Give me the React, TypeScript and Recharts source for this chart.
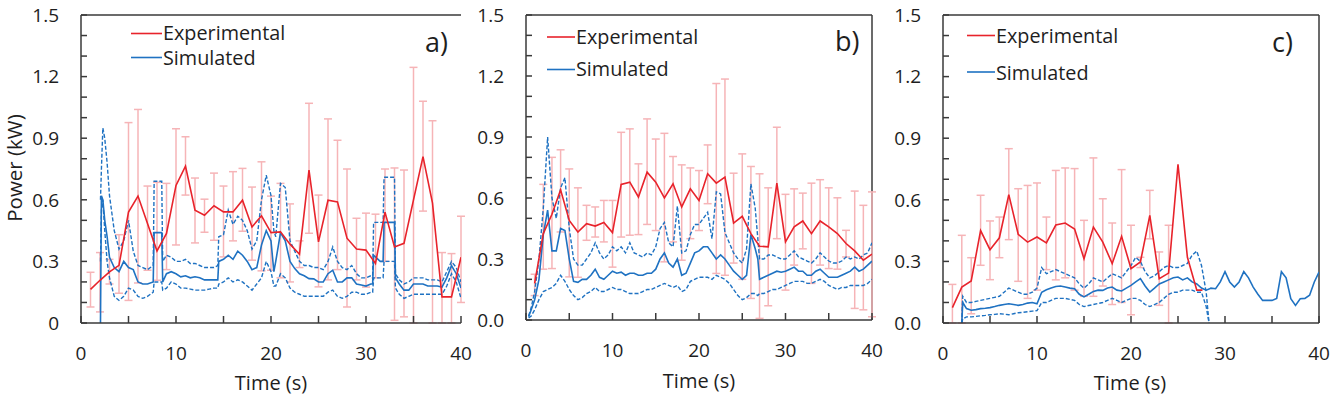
import React from "react";
import { ComposedChart, Line, XAxis, YAxis, ErrorBar, ReferenceLine } from "recharts";

const FONT = "'Open Sans', sans-serif";
const RED = "#e8232b";
const PINK = "#f6b4b7";
const BLUE = "#1f72c2";
const AXIS = "#3a3a3a";
const TEXT = "#1e1e1e";

const xTicks = [0, 5, 10, 15, 20, 25, 30, 35, 40];
const yTicks = [0, 0.1, 0.2, 0.3, 0.4, 0.5, 0.6, 0.7, 0.8, 0.9, 1, 1.1, 1.2, 1.3, 1.4, 1.5];

// ---- panel a ----
const expTimeA = [1, 2, 3, 4, 5, 6, 7, 8, 9, 10, 11, 12, 13, 14, 15, 16, 17, 18, 19, 20,
  21, 22, 23, 24, 25, 26, 27, 28, 29, 30, 31, 32, 33, 34, 35, 36, 37, 38, 39, 40];
const expA = [0.164, 0.208, 0.249, 0.281, 0.54, 0.618, 0.485, 0.351, 0.436, 0.67,
  0.764, 0.549, 0.525, 0.571, 0.541, 0.541, 0.598, 0.468, 0.522, 0.44,
  0.444, 0.384, 0.335, 0.745, 0.395, 0.598, 0.59, 0.413, 0.36, 0.355,
  0.29, 0.54, 0.37, 0.388, 0.6, 0.81, 0.584, 0.127, 0.127, 0.32];
const expLoA = [0.078, 0.054, 0.19, 0.145, 0.11, 0.195, 0.257, 0.208, 0.26, 0.38,
  0.623, 0.39, 0.442, 0.403, 0.322, 0.4, 0.447, 0.306, 0.254, 0.257,
  0.22, 0.2, 0.27, 0.437, 0.176, 0.21, 0.26, 0.078, 0.21, 0.175,
  0.22, 0.3, 0.013, 0.03, 0, 0.545, 0, 0, 0, 0.1];
const expHiA = [0.247, 0.343, 0.31, 0.43, 0.976, 1.04, 0.667, 0.685, 0.68, 0.946,
  0.907, 0.706, 0.603, 0.73, 0.667, 0.737, 0.753, 0.662, 0.785, 0.618,
  0.68, 0.58, 0.4, 1.07, 0.623, 0.994, 0.89, 0.75, 0.51, 0.535,
  0.53, 0.75, 0.755, 0.745, 1.245, 1.08, 0.985, 0.343, 0.338, 0.52];

const simTimeA = [2.05, 2.15, 2.3, 2.5, 2.75, 3, 3.5, 4, 4.5, 5,
  5.5, 6, 6.5, 7, 7.6, 7.7, 8.5, 8.6, 9, 9.5,
  10, 10.5, 11, 11.5, 12, 12.5, 13, 13.5, 14, 14.4,
  14.5, 15, 15.5, 16, 16.5, 17, 17.5, 18, 18.5, 19,
  19.5, 20, 20.3, 20.5, 21, 21.5, 22, 22.5, 23, 23.5,
  24, 24.5, 25, 25.5, 26, 26.5, 27, 27.5, 28, 28.5,
  29, 29.5, 30, 30.5, 30.7, 30.8, 31.5, 31.8, 31.9, 33,
  33.1, 33.5, 34, 34.5, 35, 35.5, 36, 36.5, 37, 37.5,
  38, 38.5, 39, 39.5, 40];
const simMeanA = [0, 0.62, 0.6, 0.5, 0.42, 0.32, 0.27, 0.25, 0.3, 0.27,
  0.26, 0.2, 0.19, 0.19, 0.2, 0.44, 0.44, 0.2, 0.24, 0.25,
  0.24, 0.225, 0.23, 0.22, 0.225, 0.22, 0.21, 0.21, 0.21, 0.21,
  0.3, 0.31, 0.33, 0.31, 0.35, 0.33, 0.3, 0.26, 0.27, 0.38,
  0.45, 0.4, 0.25, 0.3, 0.44, 0.4, 0.3, 0.265, 0.24, 0.23,
  0.216, 0.215, 0.2, 0.2, 0.24, 0.257, 0.2, 0.2, 0.22, 0.22,
  0.19, 0.185, 0.18, 0.19, 0.19, 0.33, 0.3, 0.3, 0.49, 0.49,
  0.22, 0.19, 0.16, 0.16, 0.19, 0.19, 0.19, 0.18, 0.18, 0.18,
  0.175, 0.22, 0.28, 0.24, 0.17];
const simUpA = [0.6, 0.75, 0.95, 0.9, 0.78, 0.62, 0.45, 0.36, 0.4, 0.5,
  0.35, 0.28, 0.27, 0.26, 0.28, 0.69, 0.69, 0.3, 0.33, 0.32,
  0.3, 0.3, 0.31, 0.29, 0.29, 0.28, 0.27, 0.27, 0.27, 0.28,
  0.42, 0.43, 0.55, 0.48, 0.52, 0.5, 0.45, 0.36, 0.4, 0.6,
  0.72, 0.62, 0.45, 0.42, 0.68, 0.66, 0.4, 0.35, 0.3, 0.28,
  0.28, 0.27, 0.27, 0.26, 0.3, 0.37, 0.3, 0.27, 0.26, 0.28,
  0.24, 0.22, 0.22, 0.23, 0.23, 0.49, 0.49, 0.49, 0.71, 0.71,
  0.24, 0.21, 0.19, 0.2, 0.22, 0.22, 0.22, 0.21, 0.21, 0.21,
  0.2, 0.25, 0.3, 0.27, 0.2];
const simLowA = [0.3, 0.55, 0.6, 0.45, 0.3, 0.22, 0.13, 0.11, 0.13, 0.17,
  0.16, 0.13, 0.12, 0.13, 0.15, 0.2, 0.2, 0.16, 0.17, 0.2,
  0.19, 0.17, 0.17, 0.165, 0.16, 0.16, 0.16, 0.165, 0.17, 0.17,
  0.19, 0.2, 0.22, 0.2, 0.21, 0.2, 0.18, 0.16, 0.19, 0.22,
  0.3, 0.25, 0.18, 0.18, 0.24, 0.22, 0.17, 0.15, 0.14, 0.13,
  0.13, 0.13, 0.13, 0.13, 0.15, 0.16, 0.13, 0.12, 0.13, 0.15,
  0.15, 0.14, 0.14, 0.15, 0.15, 0.22, 0.22, 0.22, 0.3, 0.3,
  0.17, 0.14, 0.12, 0.13, 0.14, 0.14, 0.14, 0.14, 0.14, 0.14,
  0.14, 0.18, 0.24, 0.2, 0.12];

// ---- panel b ----
const expTimeB = expTimeA;
const expB = [0.18, 0.425, 0.52, 0.64, 0.49, 0.433, 0.474, 0.462, 0.48, 0.43,
  0.667, 0.678, 0.605, 0.727, 0.678, 0.6, 0.67, 0.556, 0.645, 0.588,
  0.719, 0.673, 0.703, 0.477, 0.51, 0.425, 0.363, 0.36, 0.673, 0.384,
  0.458, 0.487, 0.425, 0.487, 0.458, 0.425, 0.376, 0.34, 0.294, 0.324];
const expLoB = [0.12, 0.25, 0.253, 0.433, 0.212, 0.21, 0.392, 0.408, 0.384, 0.26,
  0.408, 0.417, 0.42, 0.47, 0.44, 0.286, 0.384, 0.294, 0.4, 0.44,
  0.572, 0.229, 0.22, 0.28, 0.2, 0.106, 0.008, 0.07, 0.4, 0.147,
  0.27, 0.35, 0.18, 0.27, 0.253, 0.25, 0.31, 0.057, 0.05, 0.016];
const expHiB = [0.225, 0.667, 0.8, 0.837, 0.743, 0.65, 0.564, 0.556, 0.588, 0.588,
  0.923, 0.94, 0.768, 0.989, 0.89, 0.918, 0.804, 0.763, 0.748, 0.735,
  0.861, 1.163, 1.185, 0.722, 0.817, 0.755, 0.719, 0.65, 0.948, 0.618,
  0.645, 0.624, 0.673, 0.69, 0.65, 0.601, 0.441, 0.634, 0.564, 0.63];

const simTimeB = [0.3, 0.6, 1, 1.5, 2, 2.5, 3, 3.5, 4, 4.5,
  5, 5.5, 6, 6.5, 7, 7.5, 8, 8.5, 9, 9.5,
  10, 10.5, 11, 11.5, 12, 12.5, 13, 13.5, 14, 14.5,
  15, 15.5, 16, 16.5, 17, 17.5, 18, 18.5, 19, 19.5,
  20, 20.5, 21, 21.5, 22, 22.5, 23, 23.5, 24, 24.5,
  25, 25.5, 26, 26.5, 26.8, 27, 27.5, 28, 28.5, 29,
  29.5, 30, 30.5, 31, 31.5, 32, 32.5, 33, 33.5, 34,
  34.5, 35, 35.5, 36, 36.5, 37, 37.5, 38, 38.5, 39,
  39.5, 40];
const simMeanB = [0.016, 0.05, 0.1, 0.2, 0.42, 0.54, 0.34, 0.34, 0.45, 0.44,
  0.3, 0.19, 0.185, 0.2, 0.2, 0.22, 0.25, 0.21, 0.2, 0.22,
  0.24, 0.23, 0.235, 0.22, 0.23, 0.23, 0.22, 0.22, 0.23, 0.23,
  0.25, 0.3, 0.33, 0.28, 0.26, 0.3, 0.22, 0.23, 0.28, 0.33,
  0.34, 0.36, 0.36, 0.33, 0.3, 0.32, 0.3, 0.27, 0.24, 0.22,
  0.2, 0.22, 0.42, 0.35, 0.3, 0.2, 0.21, 0.22, 0.23, 0.24,
  0.235, 0.24, 0.25, 0.26, 0.24, 0.24, 0.22, 0.22, 0.24, 0.25,
  0.23, 0.21, 0.21, 0.21, 0.22, 0.23, 0.24, 0.26, 0.24, 0.25,
  0.27, 0.29];
const simUpB = [0.02, 0.06, 0.14, 0.3, 0.55, 0.9, 0.6, 0.5, 0.65, 0.7,
  0.45, 0.3, 0.27, 0.27, 0.3, 0.33, 0.38, 0.33, 0.3, 0.32,
  0.36, 0.34, 0.36, 0.33, 0.38, 0.33, 0.32, 0.31, 0.33, 0.32,
  0.36, 0.45, 0.48, 0.38, 0.36, 0.56, 0.33, 0.34, 0.42, 0.47,
  0.47, 0.5, 0.53, 0.4, 0.63, 0.62, 0.43, 0.38, 0.33, 0.3,
  0.28, 0.35, 0.67, 0.55, 0.4, 0.3, 0.3, 0.32, 0.32, 0.31,
  0.3, 0.3, 0.32, 0.34, 0.31, 0.3, 0.29, 0.28, 0.3, 0.33,
  0.31, 0.29, 0.28, 0.28, 0.29, 0.31, 0.3, 0.31, 0.3, 0.32,
  0.33, 0.38];
const simLowB = [0.01, 0.02, 0.05, 0.1, 0.14, 0.15, 0.16, 0.18, 0.22, 0.19,
  0.15, 0.12, 0.1, 0.11, 0.13, 0.14, 0.16, 0.14, 0.14, 0.15,
  0.16, 0.15, 0.15, 0.14, 0.13, 0.13, 0.13, 0.14, 0.15, 0.15,
  0.16, 0.17, 0.18, 0.17, 0.16, 0.17, 0.14, 0.15, 0.19, 0.2,
  0.21, 0.21, 0.21, 0.2, 0.22, 0.21, 0.2, 0.18, 0.15, 0.12,
  0.1, 0.11, 0.13, 0.13, 0.12, 0.13, 0.13, 0.14, 0.15, 0.15,
  0.16, 0.17, 0.18, 0.19, 0.19, 0.19, 0.18, 0.18, 0.19, 0.2,
  0.19, 0.17, 0.16, 0.15, 0.16, 0.16, 0.17, 0.17, 0.17, 0.17,
  0.18, 0.2];

// ---- panel c ----
const expTimeC = [1, 2, 3, 4, 5, 6, 7, 8, 9, 10, 11, 12, 13, 14, 15, 16, 17, 18, 19, 20,
  21, 22, 23, 24, 25, 26, 27, 27.6];
const expC = [0.075, 0.175, 0.205, 0.45, 0.357, 0.415, 0.625, 0.432, 0.394, 0.419,
  0.39, 0.477, 0.487, 0.458, 0.313, 0.467, 0.394, 0.289, 0.422, 0.265,
  0.297, 0.524, 0.216, 0.243, 0.773, 0.32, 0.16, 0.16];
const expLoC = [0, 0, 0.045, 0.281, 0.211, 0.318, 0.406, 0.203, 0.12, 0.16,
  0.26, 0.21, 0.22, 0.16, 0.13, 0.13, 0.18, 0.09, 0.1, 0.04,
  0.27, 0.41, 0.086, 0, null, null, null, null];
const expHiC = [0.188, 0.427, 0.318, 0.622, 0.497, 0.516, 0.849, 0.654, 0.67, 0.682,
  0.516, 0.743, 0.755, 0.752, 0.5, 0.804, 0.605, 0.487, 0.747, 0.476,
  0.32, 0.646, 0.346, 0.476, null, null, null, null];

const simTimeC = [2, 2.1, 2.5, 3, 3.5, 4, 4.5, 5, 5.5, 6,
  6.5, 7, 7.5, 8, 8.5, 9, 9.5, 10, 10.5, 11,
  11.5, 12, 12.5, 13, 13.5, 14, 14.5, 15, 15.5, 16,
  16.5, 17, 17.5, 18, 18.5, 19, 19.5, 20, 20.5, 21,
  21.5, 22, 22.5, 23, 23.5, 24, 24.5, 25, 25.5, 26,
  26.5, 27, 27.5, 28, 28.3, 28.5, 29, 29.5, 30, 30.5,
  31, 31.5, 32, 32.5, 33, 33.5, 34, 34.5, 35, 35.5,
  36, 36.5, 37, 37.5, 38, 38.5, 39, 39.5, 40];
const simMeanC = [0, 0.1, 0.07, 0.062, 0.065, 0.07, 0.072, 0.075, 0.08, 0.086,
  0.09, 0.094, 0.09, 0.086, 0.09, 0.097, 0.1, 0.094, 0.15, 0.162,
  0.17, 0.178, 0.18, 0.175, 0.17, 0.167, 0.14, 0.127, 0.14, 0.154,
  0.16, 0.159, 0.17, 0.175, 0.16, 0.156, 0.17, 0.183, 0.2, 0.216,
  0.18, 0.151, 0.17, 0.19, 0.2, 0.21, 0.22, 0.224, 0.21, 0.22,
  0.2, 0.19, 0.17, 0.16, 0.165, 0.17, 0.167, 0.2, 0.25, 0.2,
  0.175, 0.2, 0.25, 0.22, 0.175, 0.14, 0.11, 0.11, 0.11, 0.12,
  0.25, 0.22, 0.118, 0.086, 0.118, 0.12, 0.135, 0.2, 0.248];
const simUpC = [0, 0.13, 0.1, 0.1, 0.105, 0.11, 0.115, 0.12, 0.125, 0.13,
  0.15, 0.17, 0.16, 0.15, 0.14, 0.14, 0.15, 0.17, 0.27, 0.24,
  0.25, 0.26, 0.25, 0.24, 0.23, 0.22, 0.19, 0.17, 0.19, 0.22,
  0.21, 0.2, 0.22, 0.24, 0.23, 0.22, 0.25, 0.28, 0.32, 0.3,
  0.25, 0.22, 0.23, 0.25, 0.27, 0.28, 0.27, 0.27, 0.28, 0.29,
  0.33, 0.35, 0.28, 0.15, 0, null, null, null, null, null,
  null, null, null, null, null, null, null, null, null, null,
  null, null, null, null, null, null, null, null, null];
const simLowC = [0, 0.02, 0.03, 0.03, 0.032, 0.035, 0.037, 0.04, 0.042, 0.045,
  0.043, 0.04, 0.045, 0.05, 0.052, 0.055, 0.058, 0.06, 0.1, 0.1,
  0.11, 0.12, 0.12, 0.12, 0.115, 0.11, 0.09, 0.08, 0.085, 0.09,
  0.095, 0.1, 0.11, 0.12, 0.11, 0.1, 0.11, 0.12, 0.12, 0.11,
  0.09, 0.08, 0.09, 0.1, 0.12, 0.14, 0.15, 0.15, 0.16, 0.16,
  0.16, 0.15, 0.15, 0.08, 0, null, null, null, null, null,
  null, null, null, null, null, null, null, null, null, null,
  null, null, null, null, null, null, null, null, null];

function expRows(t: number[], v: number[], lo: (number | null)[], hi: (number | null)[]) {
  return t.map((x, i) => ({
    t: x,
    v: v[i],
    err: lo[i] == null || hi[i] == null ? null : [v[i] - (lo[i] as number), (hi[i] as number) - v[i]],
  }));
}

function simRows(t: number[], m: number[], u: (number | null)[], l: (number | null)[]) {
  return t.map((x, i) => ({ t: x, mean: m[i], up: u[i], low: l[i] }));
}

const fmtX = (v: number) => (v % 10 === 0 ? String(v) : "");
const fmtYa = (v: number) => {
  const k = Math.round(v * 10);
  if (k % 3 !== 0) return "";
  return k === 0 ? "0" : v.toFixed(1);
};
const fmtYb = (v: number) => (Math.round(v * 10) % 3 === 0 ? v.toFixed(1) : "");

// charts are 20px wider than their slot so the last x label is not clipped
const panels = [
  {
    key: "a",
    left: 0,
    width: 490,
    margin: { top: 15, right: 29, bottom: 25, left: 21 },
    yWidth: 60,
    yFmt: fmtYa,
    exp: expRows(expTimeA, expA, expLoA, expHiA),
    sim: simRows(simTimeA, simMeanA, simUpA, simLowA),
    rightBorder: false,
  },
  {
    key: "b",
    left: 470,
    width: 430,
    margin: { top: 15, right: 28, bottom: 28, left: 6 },
    yWidth: 50,
    yFmt: fmtYb,
    exp: expRows(expTimeB, expB, expLoB, expHiB),
    sim: simRows(simTimeB, simMeanB, simUpB, simLowB),
    rightBorder: true,
  },
  {
    key: "c",
    left: 880,
    width: 453,
    margin: { top: 15, right: 14, bottom: 25, left: 8 },
    yWidth: 55,
    yFmt: fmtYb,
    exp: expRows(expTimeC, expC, expLoC, expHiC),
    sim: simRows(simTimeC, simMeanC, simUpC, simLowC),
    rightBorder: true,
  },
];

const tickStyle = { fill: TEXT, fontSize: 19, fontFamily: FONT };

function Panel({ p }: { p: (typeof panels)[number] }) {
  return (
    <div style={{ position: "absolute", left: p.left, top: 0 }}>
      <ComposedChart width={p.width} height={398} margin={p.margin}>
        <XAxis
          type="number"
          dataKey="t"
          domain={[0, 40]}
          ticks={xTicks}
          interval={0}
          tickFormatter={fmtX}
          height={50}
          tickSize={-7}
          tickMargin={31}
          axisLine={{ stroke: AXIS, strokeWidth: 1.5 }}
          tickLine={{ stroke: AXIS, strokeWidth: 1.5 }}
          tick={tickStyle}
          allowDataOverflow
        />
        <YAxis
          type="number"
          domain={[0, 1.5]}
          ticks={yTicks}
          interval={0}
          tickFormatter={p.yFmt}
          width={p.yWidth}
          tickSize={-6}
          tickMargin={28}
          axisLine={{ stroke: AXIS, strokeWidth: 1.5 }}
          tickLine={{ stroke: AXIS, strokeWidth: 1.5 }}
          tick={tickStyle}
          allowDataOverflow
        />
        <ReferenceLine y={1.5} stroke={AXIS} strokeWidth={1.5} />
        {p.rightBorder && <ReferenceLine x={40} stroke={AXIS} strokeWidth={1.5} />}
        {/* error bars first so they sit behind everything */}
        <Line
          data={p.exp}
          dataKey="v"
          stroke="none"
          dot={false}
          activeDot={false}
          isAnimationActive={false}
        >
          <ErrorBar dataKey="err" direction="y" stroke={PINK} strokeWidth={1.5} width={4} />
        </Line>
        <Line data={p.sim} dataKey="up" stroke={BLUE} strokeWidth={1.4} strokeDasharray="4 2"
          dot={false} activeDot={false} isAnimationActive={false} />
        <Line data={p.sim} dataKey="low" stroke={BLUE} strokeWidth={1.4} strokeDasharray="4 2"
          dot={false} activeDot={false} isAnimationActive={false} />
        <Line data={p.sim} dataKey="mean" stroke={BLUE} strokeWidth={1.6}
          dot={false} activeDot={false} isAnimationActive={false} />
        <Line data={p.exp} dataKey="v" stroke={RED} strokeWidth={1.6}
          dot={false} activeDot={false} isAnimationActive={false} />
      </ComposedChart>
    </div>
  );
}

const legends = [
  { x1: 131, x2: 162, ey: 33.5, eb: 40, sy: 57.5, sb: 65, letter: "a)", lx: 425, lb: 52 },
  { x1: 547, x2: 575, ey: 37, eb: 44, sy: 69.5, sb: 76, letter: "b)", lx: 835, lb: 51 },
  { x1: 967, x2: 995, ey: 35.5, eb: 43, sy: 72, sb: 80, letter: "c)", lx: 1272, lb: 52 },
];
const timeLabels = [
  { x: 271, y: 390 },
  { x: 699, y: 388 },
  { x: 1130, y: 390 },
];

export default function App() {
  return (
    <div style={{ position: "absolute", left: 0, top: 0, width: 1333, height: 398, background: "#fff", overflow: "hidden" }}>
      {panels.map((p) => (
        <Panel key={p.key} p={p} />
      ))}
      <svg width={1333} height={398} style={{ position: "absolute", left: 0, top: 0, pointerEvents: "none" }}>
        <g fontFamily={FONT} fill={TEXT}>
          {legends.map((l) => (
            <g key={l.letter}>
              <line x1={l.x1} x2={l.x2} y1={l.ey} y2={l.ey} stroke={RED} strokeWidth={1.6} />
              <text x={l.x2 + 1} y={l.eb} fontSize={19.8}>Experimental</text>
              <line x1={l.x1} x2={l.x2} y1={l.sy} y2={l.sy} stroke={BLUE} strokeWidth={1.6} />
              <text x={l.x2 + 1} y={l.sb} fontSize={19.8}>Simulated</text>
              <text x={l.lx} y={l.lb} fontSize={27}>{l.letter}</text>
            </g>
          ))}
          {timeLabels.map((t, i) => (
            <text key={i} x={t.x} y={t.y} fontSize={20}>
              <tspan textAnchor="middle">Time (s)</tspan>
            </text>
          ))}
          <text transform="translate(22,168) rotate(-90)" fontSize={20.5} textAnchor="middle">Power (kW)</text>
        </g>
      </svg>
    </div>
  );
}
